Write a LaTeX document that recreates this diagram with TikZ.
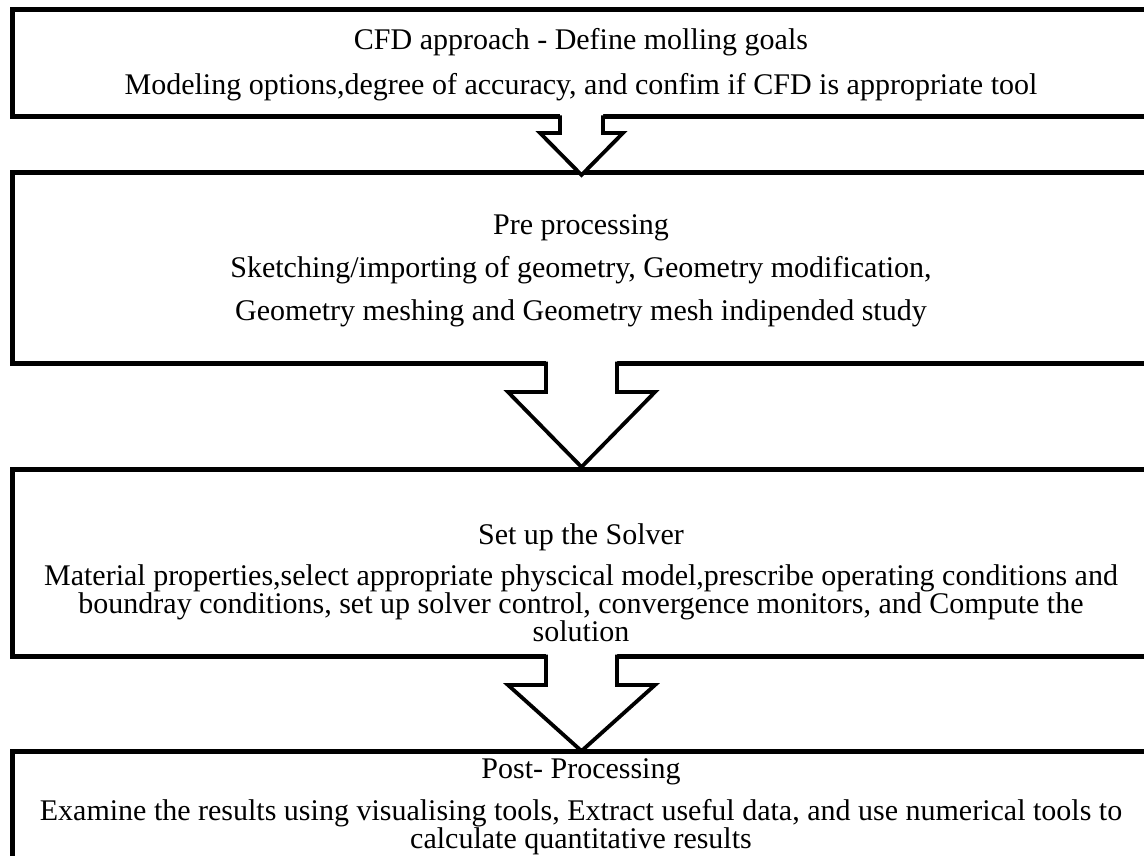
\documentclass[tikz,border=0pt]{standalone}
\usepackage{fontspec}
\setmainfont{Liberation Serif}
\usetikzlibrary{calc}
\newcommand\myblockarrow[5]{%
  \fill[white] ($(#1)+(-#3,-3)$) -- ($(#1)+(-#3,#4)$) -- ($(#1)+(-#5,#4)$) -- (#2)
     -- ($(#1)+(#5,#4)$) -- ($(#1)+(#3,#4)$) -- ($(#1)+(#3,-3)$) -- cycle;
  \draw[blockarrow] ($(#1)+(-#3,-1.5)$) -- ($(#1)+(-#3,#4)$) -- ($(#1)+(-#5,#4)$) -- (#2)
     -- ($(#1)+(#5,#4)$) -- ($(#1)+(#3,#4)$) -- ($(#1)+(#3,-1.5)$);}
\begin{document}
\begin{tikzpicture}[x=1pt,y=-1pt,
  box/.style={draw, line width=5pt, rectangle, anchor=north west, minimum width=1250pt, inner sep=0pt, outer sep=0pt},
  txt/.style={font=\fontsize{30}{30}\selectfont, inner sep=0pt, anchor=base},
  blockarrow/.style={line width=3.8pt, line join=miter, line cap=butt}]
\useasboundingbox (0,0) rectangle (1144,856);
\fill[white] (0,0) rectangle (1144,856);
\clip (0,0) rectangle (1144,856);
% boxes
\node[box, minimum height=107pt] (b1) at (12,10) {};
\node[box, minimum height=190pt] (b2) at (12,173) {};
\node[box, minimum height=187pt] (b3) at (12,469) {};
\node[box, minimum height=160pt] (b4) at (12,751) {};
% arrow axis
\coordinate (ax) at (581.5,0);
\coordinate (a1s) at (ax |- b1.south);
\coordinate (a1t) at ($(ax |- b2.north)+(0,2)$);
\coordinate (a2s) at (ax |- b2.south);
\coordinate (a2t) at ($(ax |- b3.north)+(0,-2)$);
\coordinate (a3s) at (ax |- b3.south);
\coordinate (a3t) at ($(ax |- b4.north)+(0,0)$);
\myblockarrow{a1s}{a1t}{21.5}{16}{41.5}
\myblockarrow{a2s}{a2t}{35.5}{29}{73.5}
\myblockarrow{a3s}{a3t}{35.5}{29}{73.5}
% texts
\node[txt] (t1a) at (581,50) {CFD approach - Define molling goals};
\node[txt] (t1b) at (581,95) {Modeling options,degree of accuracy, and confim if CFD is appropriate tool};
\node[txt] (t2a) at (581,234) {Pre processing};
\node[txt] (t2b) at (581,277) {Sketching/importing of geometry, Geometry modification,};
\node[txt] (t2c) at (581,320) {Geometry meshing and Geometry mesh indipended study};
\node[txt] (t3a) at (581,544) {Set up the Solver};
\node[txt] (t3b) at (581,585) {Material properties,select appropriate physcical model,prescribe operating conditions and};
\node[txt] (t3c) at (581,613) {boundray conditions, set up solver control, convergence monitors, and Compute the};
\node[txt] (t3d) at (581,641) {solution};
\node[txt] (t4a) at (581,778) {Post- Processing};
\node[txt] (t4b) at (581,820) {Examine the results using visualising tools, Extract useful data, and use numerical tools to};
\node[txt] (t4c) at (581,848) {calculate quantitative results};
\end{tikzpicture}
\end{document}
